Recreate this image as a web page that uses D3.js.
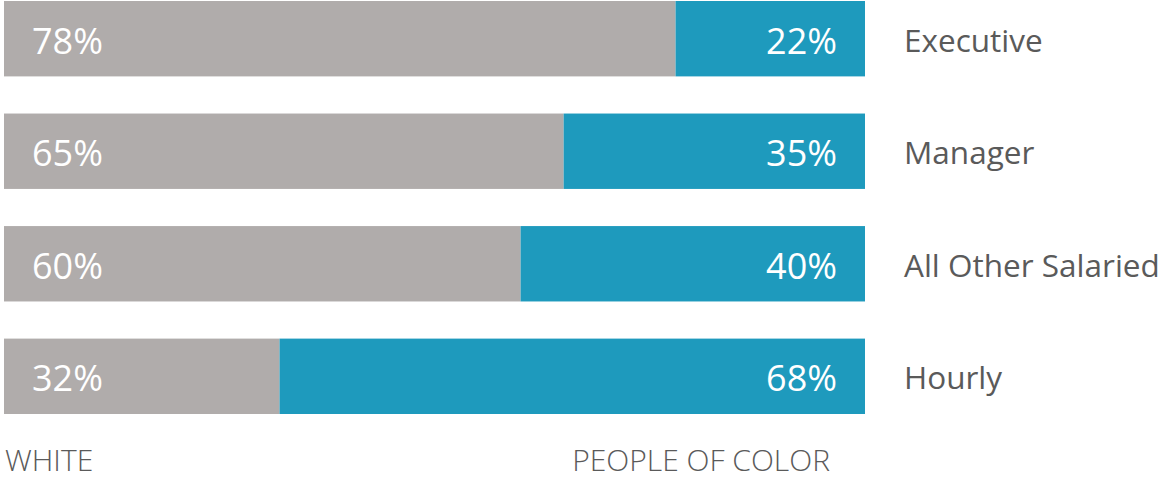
<!DOCTYPE html>
<html>
<head>
<meta charset="utf-8">
<script src="https://cdn.jsdelivr.net/npm/d3@7"></script>
<style>
  body { margin: 0; background: #fff; }
  svg { display: block; font-family: "Open Sans", sans-serif; }
</style>
</head>
<body>
<svg id="chart" width="1162" height="479"></svg>
<script>
const categories = ["Executive", "Manager", "All Other Salaried", "Hourly"];
const white = [78, 65, 60, 32];
const peopleOfColor = [22, 35, 40, 68];
const legendLabels = ["WHITE", "PEOPLE OF COLOR"];

const colors = { white: "#b0acab", poc: "#1e9abd", text: "#5a5a5a" };

const svg = d3.select("#chart");

const x = d3.scaleLinear().domain([0, 100]).range([4, 865]);
const y = d3.scaleBand().domain(categories).range([1, 414]).paddingInner(0.33);

const rows = categories.map(function(c, i) {
  return { cat: c, w: white[i], p: peopleOfColor[i] };
});

let row = svg.selectAll(".row")
  .data(rows)
  .enter().append("g")
  .attr("class", "row")
  .attr("transform", function(d) { return "translate(0," + y(d.cat) + ")"; });

// white share
row.append("rect")
  .attr("x", x(0))
  .attr("width", function(d) { return x(d.w) - x(0); })
  .attr("height", y.bandwidth())
  .attr("fill", colors.white);

// people of color share
row.append("rect")
  .attr("x", function(d) { return x(d.w); })
  .attr("width", function(d) { return x(100) - x(d.w); })
  .attr("height", y.bandwidth())
  .attr("fill", colors.poc);

const mid = y.bandwidth() / 2;

row.append("text")
  .attr("x", x(0) + 28)
  .attr("y", mid + 15)
  .attr("fill", "#fff")
  .style("font-size", "36px")
  .text(function(d) { return d.w + "%"; });

row.append("text")
  .attr("x", x(100) - 28)
  .attr("y", mid + 15)
  .attr("text-anchor", "end")
  .attr("fill", "#fff")
  .style("font-size", "36px")
  .text(function(d) { return d.p + "%"; });

row.append("text")
  .attr("x", 904)
  .attr("y", mid + 13)
  .attr("fill", colors.text)
  .style("font-size", "31.5px")
  .text(function(d) { return d.cat; });

// legend labels under the bars
svg.append("text")
  .attr("x", 5)
  .attr("y", 471)
  .attr("fill", colors.text)
  .style("font-size", "30px")
  .style("font-weight", 300)
  .text(legendLabels[0]);

svg.append("text")
  .attr("x", 830)
  .attr("y", 471)
  .attr("text-anchor", "end")
  .attr("fill", colors.text)
  .style("font-size", "30px")
  .style("font-weight", 300)
  .text(legendLabels[1]);
</script>
</body>
</html>
